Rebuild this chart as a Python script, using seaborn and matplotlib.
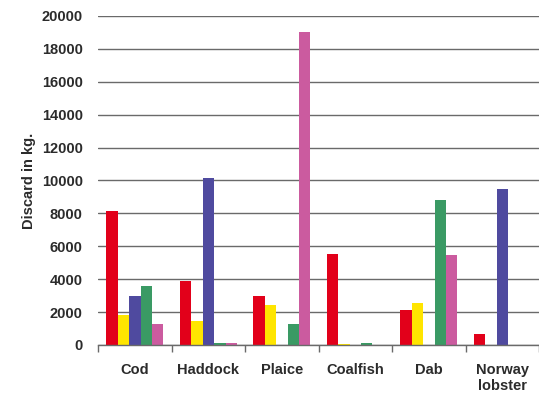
import numpy as np
import pandas as pd
import matplotlib
matplotlib.use("Agg")
import matplotlib.pyplot as plt
import seaborn as sns

species = ["Cod", "Haddock", "Plaice", "Coalfish", "Dab", "Norway\nlobster"]
series_names = ["Series 1", "Series 2", "Series 3", "Series 4", "Series 5"]
series_1 = [8150, 3900, 2950, 5500, 2100, 650]
series_2 = [1850, 1450, 2400, 50, 2550, 0]
series_3 = [3000, 10150, 0, 0, 0, 9450]
series_4 = [3600, 150, 1300, 150, 8800, 0]
series_5 = [1250, 120, 19000, 0, 5450, 0]
colors = ["#e2001a", "#ffe500", "#4f4a9f", "#3a9a64", "#cb5b9f"]
yticks = [0, 2000, 4000, 6000, 8000, 10000, 12000, 14000, 16000, 18000, 20000]

rows = []
for name, vals in zip(series_names, [series_1, series_2, series_3, series_4, series_5]):
    for sp, v in zip(species, vals):
        rows.append({"species": sp, "series": name, "discard": v})
df = pd.DataFrame(rows)

sns.set_theme(style="white")
plt.rcParams["font.family"] = ["Liberation Sans", "DejaVu Sans"]

fig = plt.figure(figsize=(5.39, 3.97), dpi=100)
ax = fig.add_axes([0.182, 0.131, 0.818, 0.829])

sns.barplot(data=df, x="species", y="discard", hue="series", order=species,
            hue_order=series_names, palette=colors, width=0.78, saturation=1,
            linewidth=0, legend=False, ax=ax)

text_color = "#2b2b2b"
ax.set_ylim(0, 20000)
ax.set_xlim(-0.5, len(species) - 0.5)
ax.set_yticks(yticks)
ax.set_yticklabels([str(t) for t in yticks], fontsize=10.5, fontweight="bold", color=text_color)
ax.yaxis.grid(True, color="#6a6a6a", linewidth=1.0)
ax.set_axisbelow(True)

ax.set_xticks(range(len(species)))
ax.set_xticklabels(species, fontsize=10.5, fontweight="bold", color=text_color)
ax.set_xticks(np.arange(-0.5, len(species) + 0.5, 1), minor=True)
ax.tick_params(axis="x", which="major", length=0, pad=13)
ax.tick_params(axis="x", which="minor", length=5, width=1, color="#6a6a6a", direction="out", bottom=True)
ax.tick_params(axis="y", length=0, pad=11)

for side in ["left", "top", "right"]:
    ax.spines[side].set_visible(False)
ax.spines["bottom"].set_color("#6a6a6a")
ax.spines["bottom"].set_linewidth(1.0)

ax.set_xlabel("")
ax.set_ylabel("Discard in kg.", fontsize=10.5, fontweight="bold", color=text_color, labelpad=4)

fig.savefig("out.png", dpi=100)
